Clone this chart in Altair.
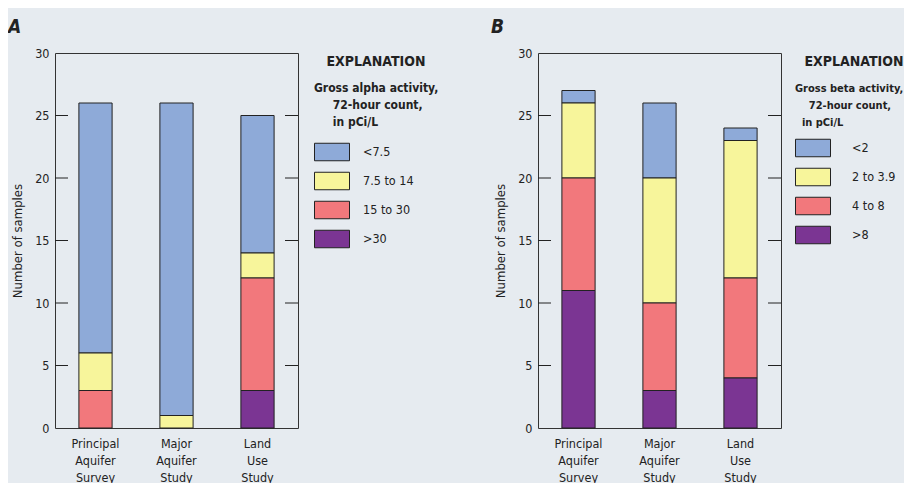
import altair as alt
import pandas as pd

categories = ["Principal Aquifer Survey", "Major Aquifer Study", "Land Use Study"]

alpha_classes = ["<7.5", "7.5 to 14", "15 to 30", ">30"]
alpha_lt75 = [20, 25, 11]
alpha_75_14 = [3, 1, 2]
alpha_15_30 = [3, 0, 9]
alpha_gt30 = [0, 0, 3]

beta_classes = ["<2", "2 to 3.9", "4 to 8", ">8"]
beta_lt2 = [1, 6, 1]
beta_2_39 = [6, 10, 11]
beta_4_8 = [9, 7, 8]
beta_gt8 = [11, 3, 4]

colors = ["#8eaad8", "#f7f59b", "#f2787c", "#7b3593"]
y_ticks = [0, 5, 10, 15, 20, 25, 30]
inner_ticks = [5, 10, 15, 20, 25]

FONT = "DejaVu Sans Condensed"
INK = "#222222"
W, H = 243, 375


def build(classes, series):
    rows = []
    n = len(classes)
    for ci, (cls, vals) in enumerate(zip(classes, series)):
        for cat, v in zip(categories, vals):
            if v > 0:
                rows.append({"study": cat, "cls": cls, "count": v, "order": n - 1 - ci})
    return pd.DataFrame(rows)


def panel(df, classes, letter, legend_title, legend_x, title_size, label_offset,
          title_padding, row_padding, expl_x):
    bars = alt.Chart(df).mark_bar(stroke=INK, strokeWidth=1).encode(
        x=alt.X(
            "study:N",
            sort=categories,
            scale=alt.Scale(paddingInner=0.59, paddingOuter=0.295),
            axis=alt.Axis(
                title=None, labelAngle=0, labelExpr="split(datum.label, ' ')",
                ticks=False, domain=False, labelPadding=9, labelFontSize=12.5,
                labelLineHeight=17, labelColor=INK, labelFont=FONT,
            ),
        ),
        y=alt.Y(
            "count:Q", stack="zero",
            scale=alt.Scale(domain=[0, 30], nice=False),
            axis=alt.Axis(
                title="Number of samples", values=y_ticks, ticks=False, domain=False,
                grid=False, labelPadding=6, labelFontSize=12.5, labelColor=INK,
                labelFont=FONT, titleFont=FONT, titleFontSize=13,
                titleFontWeight="normal", titleColor=INK, titlePadding=10,
            ),
        ),
        color=alt.Color(
            "cls:N",
            scale=alt.Scale(domain=classes, range=colors),
            legend=alt.Legend(
                orient="none", legendX=legend_x, legendY=30, padding=0,
                title=legend_title, titleFont=FONT, titleFontSize=title_size,
                titleFontWeight="bold", titleLineHeight=17, titleColor=INK,
                titlePadding=title_padding, titleAnchor="start",
                symbolType="M-1,-0.5H1V0.5H-1Z", symbolSize=1225,
                symbolStrokeColor=INK, symbolStrokeWidth=1, symbolOpacity=1,
                labelOffset=label_offset, labelFont=FONT, labelFontSize=12.5,
                labelColor=INK, rowPadding=row_padding,
            ),
        ),
        order=alt.Order("order:Q"),
    )
    tick_df = pd.DataFrame({"v": inner_ticks})
    lt = alt.Chart(tick_df).mark_rule(color=INK, strokeWidth=1).encode(
        y="v:Q", x=alt.value(0), x2=alt.value(13))
    rt = alt.Chart(tick_df).mark_rule(color=INK, strokeWidth=1).encode(
        y="v:Q", x=alt.value(W - 13), x2=alt.value(W))
    expl = alt.Chart(pd.DataFrame({"t": ["EXPLANATION"]})).mark_text(
        font=FONT, fontSize=14, fontWeight="bold", color=INK, align="center",
        baseline="alphabetic").encode(text="t:N", x=alt.value(expl_x), y=alt.value(13))
    return alt.layer(bars, lt, rt, expl).properties(
        width=W, height=H,
        title=alt.TitleParams(
            letter, anchor="start", frame="group", dx=-47, fontSize=19,
            fontStyle="italic", fontWeight="bold", font=FONT, color=INK, offset=10,
        ),
    )


NB = "\u00a0"
Z = "\u200b"
pa = panel(build(alpha_classes, [alpha_lt75, alpha_75_14, alpha_15_30, alpha_gt30]),
           alpha_classes, "A",
           ["Gross alpha activity,", Z + NB * 5 + "72-hour count,", Z + NB * 5 + "in pCi/L"],
           259, 12, 13, 5, -10, 321)
pb = panel(build(beta_classes, [beta_lt2, beta_2_39, beta_4_8, beta_gt8]),
           beta_classes, "B",
           ["Gross beta activity,", Z + NB * 4 + "72-hour count,", Z + NB * 2 + "in pCi/L"],
           257, 11, 21, 2, -10.5, 316)

chart = alt.hconcat(pa, pb, spacing=240, bounds="flush").resolve_scale(
    color="independent", y="independent", x="independent"
).configure(background="#e6ebf0", font=FONT).configure_view(
    stroke="#333333", strokeWidth=1
).properties(
    autosize=alt.AutoSizeParams(type="none"),
    padding={"left": 47, "top": 45, "right": 849, "bottom": 422},
)

chart.save("out.html", embed_options={"renderer": "svg", "actions": False})
